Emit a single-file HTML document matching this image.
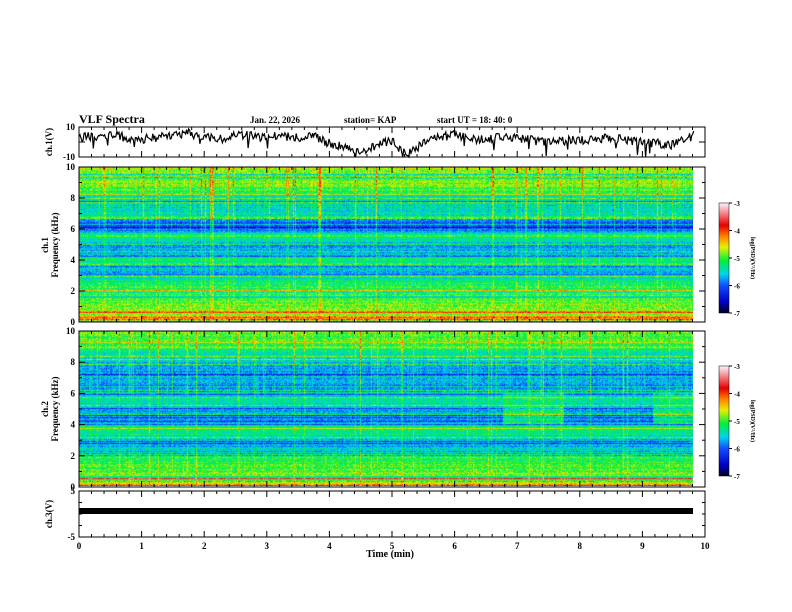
<!DOCTYPE html>
<html><head><meta charset="utf-8"><style>
body{margin:0;background:#fff;width:792px;height:612px;overflow:hidden;position:relative;font-family:"Liberation Serif",serif;}
canvas{position:absolute;}
svg{position:absolute;left:0;top:0;}
text{font-family:"Liberation Serif",serif;font-weight:bold;fill:#000;}
</style></head><body>
<canvas id="spec1" width="614" height="155" style="left:79px;top:167px"></canvas>
<canvas id="spec2" width="614" height="155" style="left:79px;top:331px"></canvas>
<canvas id="cb1" width="10" height="110" style="left:719px;top:203px"></canvas>
<canvas id="cb2" width="10" height="110" style="left:719px;top:366px"></canvas>
<svg id="ax" width="792" height="612">
<text x="79" y="123" font-size="12">VLF Spectra</text>
<text x="250" y="123" font-size="9">Jan. 22, 2026</text>
<text x="344" y="123" font-size="9">station= KAP</text>
<text x="437" y="123" font-size="9">start  UT =  18: 40: 0</text>
<text x="390" y="557" font-size="10" text-anchor="middle">Time (min)</text>
<text transform="translate(52,142) rotate(-90)" font-size="9" text-anchor="middle">ch.1(V)</text>
<text transform="translate(48,245) rotate(-90)" font-size="9" text-anchor="middle">ch.1</text>
<text transform="translate(58,245) rotate(-90)" font-size="9" text-anchor="middle">Frequency (kHz)</text>
<text transform="translate(48,409) rotate(-90)" font-size="9" text-anchor="middle">ch.2</text>
<text transform="translate(58,409) rotate(-90)" font-size="9" text-anchor="middle">Frequency (kHz)</text>
<text transform="translate(52,514) rotate(-90)" font-size="9" text-anchor="middle">ch.3(V)</text>
<text transform="translate(751,258) rotate(90)" font-size="6" text-anchor="middle">log(PSD)(V²/Hz)</text>
<text transform="translate(751,421) rotate(90)" font-size="6" text-anchor="middle">log(PSD)(V²/Hz)</text>
<rect x="79" y="508" width="614" height="6" fill="#000"/>
</svg>
<script>
// ---- data ----
const xTicks=[0,1,2,3,4,5,6,7,8,9,10];
const freqTicks=[0,2,4,6,8,10];
const cbTicks=[-3,-4,-5,-6,-7];
const waveTimes=[0,0.25,0.5,0.75,1,1.25,1.5,1.75,2,2.25,2.5,2.75,3,3.25,3.5,3.75,4,4.25,4.5,4.75,5,5.1,5.25,5.4,5.5,5.75,6,6.25,6.5,6.75,7,7.25,7.5,7.75,8,8.25,8.5,8.75,9,9.25,9.5,9.8];
const waveValues=[3,4,5,3,2,3,4,6,3,2,5,4,3,4,3,4,-1,-3,-6,-2,1,-4,-8,-5,1,3,5,2,2,3,3,1,0,1,1,2,3,1,0,-1,-2,4];
// band profile: frequency (kHz) -> mean log PSD
const profFreq=[0,0.3,0.6,1.0,1.5,2.0,2.5,2.8,3.3,3.8,4.1,4.5,5.0,5.3,5.6,6.0,6.4,6.8,7.3,8.0,8.5,9.0,9.5,10];
const ch1Prof=[-4.4,-4.6,-4.7,-4.8,-4.95,-5.0,-5.15,-5.55,-5.65,-5.45,-5.2,-5.75,-5.75,-5.35,-5.1,-6.0,-6.05,-5.3,-5.45,-5.45,-5.0,-4.85,-4.85,-4.8];
const ch2Prof=[-4.5,-4.7,-4.85,-4.95,-5.05,-5.1,-5.65,-5.75,-5.35,-5.25,-5.75,-5.75,-5.75,-5.35,-5.35,-5.75,-5.85,-5.75,-5.85,-5.55,-5.35,-5.0,-4.95,-4.85];
const ch2GreenSegments=[[6.77,7.75],[9.17,9.82]];
const ch2GreenRange=[4.0,6.0];
const dataEnd=9.82;

// ---- scales ----
const X0=79,X1=705;
const xs=t=>X0+(X1-X0)*t/10;
const svg=document.getElementById('ax');
const NS='http://www.w3.org/2000/svg';
function el(tag,attrs,name){const e=document.createElementNS(NS,tag);for(const k in attrs)e.setAttribute(k,attrs[k]);


svg.appendChild(e);return e;}

const panels=[{y0:127,y1:157,name:'ch1-waveform-panel'},{y0:167,y1:322,name:'ch1-spectrogram-panel'},{y0:331,y1:487,name:'ch2-spectrogram-panel'},{y0:491,y1:537,name:'ch3-panel'}];
panels.forEach(p=>{
  el('rect',{x:X0,y:p.y0,width:X1-X0,height:p.y1-p.y0,fill:'none',stroke:'#000','stroke-width':1},p.name);
  for(let i=0;i<=50;i++){const t=i/5,x=xs(t),L=(i%5==0)?6:3;
    el('line',{x1:x,x2:x,y1:p.y0,y2:p.y0+L,stroke:'#000'},'x-tick');
    el('line',{x1:x,x2:x,y1:p.y1,y2:p.y1-L,stroke:'#000'},'x-tick');}
});
xTicks.forEach(t=>{const e=el('text',{x:xs(t),y:549,'font-size':9,'text-anchor':'middle'},'x-tick-label');e.textContent=t;});

function freqAxis(y0,y1){
  const ys=f=>y1-(y1-y0)*f/10;
  for(let f=0;f<=10;f++){const L=f%2==0?6:3;
    el('line',{x1:X0,x2:X0+L,y1:ys(f),y2:ys(f),stroke:'#000'},'y-tick');
    el('line',{x1:X1,x2:X1-L,y1:ys(f),y2:ys(f),stroke:'#000'},'y-tick');}
  freqTicks.forEach(f=>{const e=el('text',{x:75,y:ys(f)+3,'font-size':9,'text-anchor':'end'},'y-tick-label');e.textContent=f;});
}
freqAxis(167,322);freqAxis(331,487);
[[10,127],[-10,157]].forEach(([v,y])=>{const e=el('text',{x:75,y:y+3,'font-size':9,'text-anchor':'end'},'y-tick-label');e.textContent=v;});
el('line',{x1:X0,x2:X0+6,y1:142,y2:142,stroke:'#000'},'y-tick');
el('line',{x1:X1,x2:X1-6,y1:142,y2:142,stroke:'#000'},'y-tick');
[[5,491],[-5,537]].forEach(([v,y])=>{const e=el('text',{x:75,y:y+3,'font-size':9,'text-anchor':'end'},'y-tick-label');e.textContent=v;});
[-2.5,0,2.5].forEach(v=>{const y=514-v*4.6;el('line',{x1:X0,x2:X0+3,y1:y,y2:y,stroke:'#000'},'y-tick');el('line',{x1:X1,x2:X1-3,y1:y,y2:y,stroke:'#000'},'y-tick');});

function h(a,b){let n=(a*374761393+b*668265263)|0;n=(n^(n>>>13))*1274126177|0;return ((n^(n>>>16))>>>0)/4294967296;}
const wy=v=>142-v*15/10;
let d='';
const N=600;
for(let i=0;i<=N;i++){const t=dataEnd*i/N;let k=0;while(k<waveTimes.length-2&&waveTimes[k+1]<t)k++;
  const a=(t-waveTimes[k])/(waveTimes[k+1]-waveTimes[k]);let v=waveValues[k]*(1-a)+waveValues[k+1]*a;
  v+=(h(i,7)-0.5)*6; if(h(i,3)>0.97)v-=8; v=Math.max(-10,Math.min(10,v));
  d+=(i?'L':'M')+xs(t).toFixed(1)+' '+wy(v).toFixed(1);}
el('path',{d:d,fill:'none',stroke:'#000','stroke-width':1.2},'ch1-waveform-line');

const cmapStops=[[-7,[0,0,40]],[-6.6,[0,0,200]],[-6.0,[20,80,255]],[-5.6,[0,210,240]],[-5.1,[0,240,60]],[-4.6,[230,240,0]],[-4.2,[255,130,0]],[-3.8,[230,0,0]],[-3,[255,240,250]]];
function cmap(v){if(v<=-7)return cmapStops[0][1];if(v>=-3)return cmapStops[cmapStops.length-1][1];
  for(let i=0;i<cmapStops.length-1;i++){const [a,ca]=cmapStops[i],[b,cb]=cmapStops[i+1];if(v<=b){const f=(v-a)/(b-a);return ca.map((c,j)=>c+(cb[j]-c)*f);}}}
function profAt(prof,f){let k=0;while(k<profFreq.length-2&&profFreq[k+1]<f)k++;const a=(f-profFreq[k])/(profFreq[k+1]-profFreq[k]);return prof[k]*(1-a)+prof[k+1]*a;}
function drawSpec(id,prof,seed,green){
  const c=document.getElementById(id),ctx=c.getContext('2d'),W=c.width,H=c.height,img=ctx.createImageData(W,H);
  const colA=[],rowA=[];
  for(let x=0;x<W;x++){let s=(h(x,seed)-0.5)*0.25;if(h(x,seed+1)>0.92)s+=0.35+h(x,seed+2)*0.45;colA.push(s);}
  for(let y=0;y<H;y++){let s=(h(y,seed+5)-0.5)*0.3;if(h(y,seed+6)>0.9)s+=0.5;if(h(y,seed+9)>0.94)s-=0.5;rowA.push(s);}
  for(let y=0;y<H;y++){const f=10*(H-1-y)/(H-1);
    for(let x=0;x<W;x++){const t=x/W*dataEnd;let v=profAt(prof,f);
      if(green&&f>=ch2GreenRange[0]&&f<=ch2GreenRange[1]&&ch2GreenSegments.some(s=>t>=s[0]&&t<=s[1]))v=-5.2;
      let ca=colA[x]*(f>6?1:0.5);
      v+=ca+rowA[y]+(h(x*131+y,seed+3)-0.5)*0.6;
      if(f<0.6)v+=(h(y,seed+11)-0.3)*1.5;
      const col=cmap(v),i=(y*W+x)*4;img.data[i]=col[0];img.data[i+1]=col[1];img.data[i+2]=col[2];img.data[i+3]=255;}}
  ctx.putImageData(img,0,0);
}
drawSpec('spec1',ch1Prof,11,false);
drawSpec('spec2',ch2Prof,23,true);
function drawCB(id,top){const c=document.getElementById(id),ctx=c.getContext('2d');
  for(let y=0;y<c.height;y++){const v=-3-4*y/(c.height-1);const col=cmap(v);ctx.fillStyle=`rgb(${col.map(Math.round).join(',')})`;ctx.fillRect(0,y,c.width,1);}
  el('rect',{x:719,y:top,width:10,height:110,fill:'none',stroke:'#000','stroke-width':0.5},'colorbar-frame');
  cbTicks.forEach(v=>{const y=top+(-3-v)/4*110;el('line',{x1:729,x2:732,y1:y,y2:y,stroke:'#000'},'colorbar-tick');
    const e=el('text',{x:734,y:y+3,'font-size':7},'colorbar-tick-label');e.textContent=v;});}
drawCB('cb1',203);drawCB('cb2',366);
</script>
</body></html>
